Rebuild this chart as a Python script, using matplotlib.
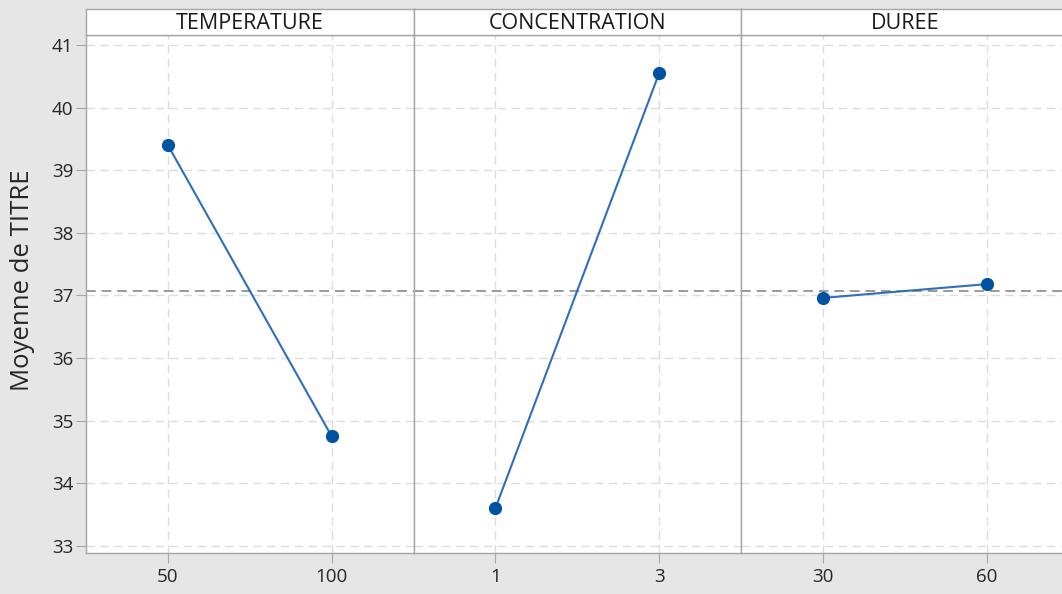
import matplotlib
matplotlib.use("Agg")
import matplotlib.pyplot as plt

# data
factors = ["TEMPERATURE", "CONCENTRATION", "DUREE"]
levels = [["50", "100"], ["1", "3"], ["30", "60"]]
means = [[39.40, 34.75], [33.60, 40.55], [36.96, 37.18]]
grand_mean = 37.07
yticks = [33, 34, 35, 36, 37, 38, 39, 40, 41]

plt.rcParams['font.family'] = ['Open Sans', 'DejaVu Sans']

W, H = 1062, 594
fig = plt.figure(figsize=(W / 100, H / 100), dpi=100)
fig.patch.set_facecolor('#e6e6e6')

edge = '#a6a6a6'
left, pw = 86, 327.5
top_hdr, top_ax, bottom = 9, 35, 553

for i, name in enumerate(factors):
    x0 = left + i * pw
    ax = fig.add_axes([x0 / W, 1 - bottom / H, pw / W, (bottom - top_ax) / H])
    hx = fig.add_axes([x0 / W, 1 - top_ax / H, pw / W, (top_ax - top_hdr) / H])

    hx.set_facecolor('white')
    hx.set_xticks([])
    hx.set_yticks([])
    for s in hx.spines.values():
        s.set_color(edge)
        s.set_linewidth(1.0)
    hx.text(0.5, 0.45, name, ha='center', va='center', fontsize=15.5,
            color='#1a1a1a', transform=hx.transAxes)

    xs = list(range(len(levels[i])))
    ax.set_facecolor('white')
    ax.grid(True, color='#dcdcdc', linestyle=(0, (6, 4)), linewidth=1.0)
    ax.set_axisbelow(True)
    ax.axhline(grand_mean, color='#9a9a9a', linestyle=(0, (5, 3)), linewidth=1.4, zorder=2)
    ax.plot(xs, means[i], color='#2f6fba', linewidth=1.5, zorder=3)
    ax.plot(xs, means[i], 'o', color='#0052a3', markersize=8.5, zorder=4)

    ax.set_xlim(-0.5, 1.5)
    ax.set_ylim(32.885, 41.16)
    ax.set_xticks(xs)
    ax.set_xticklabels(levels[i])
    ax.set_yticks(yticks)
    ax.tick_params(axis='both', colors=edge, labelcolor='#262626', labelsize=13.5,
                   length=7, direction='out')
    ax.tick_params(axis='x', pad=4)
    ax.tick_params(axis='y', pad=2)
    for s in ax.spines.values():
        s.set_color(edge)
        s.set_linewidth(1.0)
    if i == 0:
        ax.set_ylabel("Moyenne de TITRE", fontsize=18.5, color='#262626')
        ax.yaxis.set_label_coords(35 / W, 1 - 280 / H, transform=fig.transFigure)
    else:
        ax.tick_params(axis='y', left=False, labelleft=False)

fig.savefig("out.png", dpi=100, facecolor=fig.get_facecolor())
